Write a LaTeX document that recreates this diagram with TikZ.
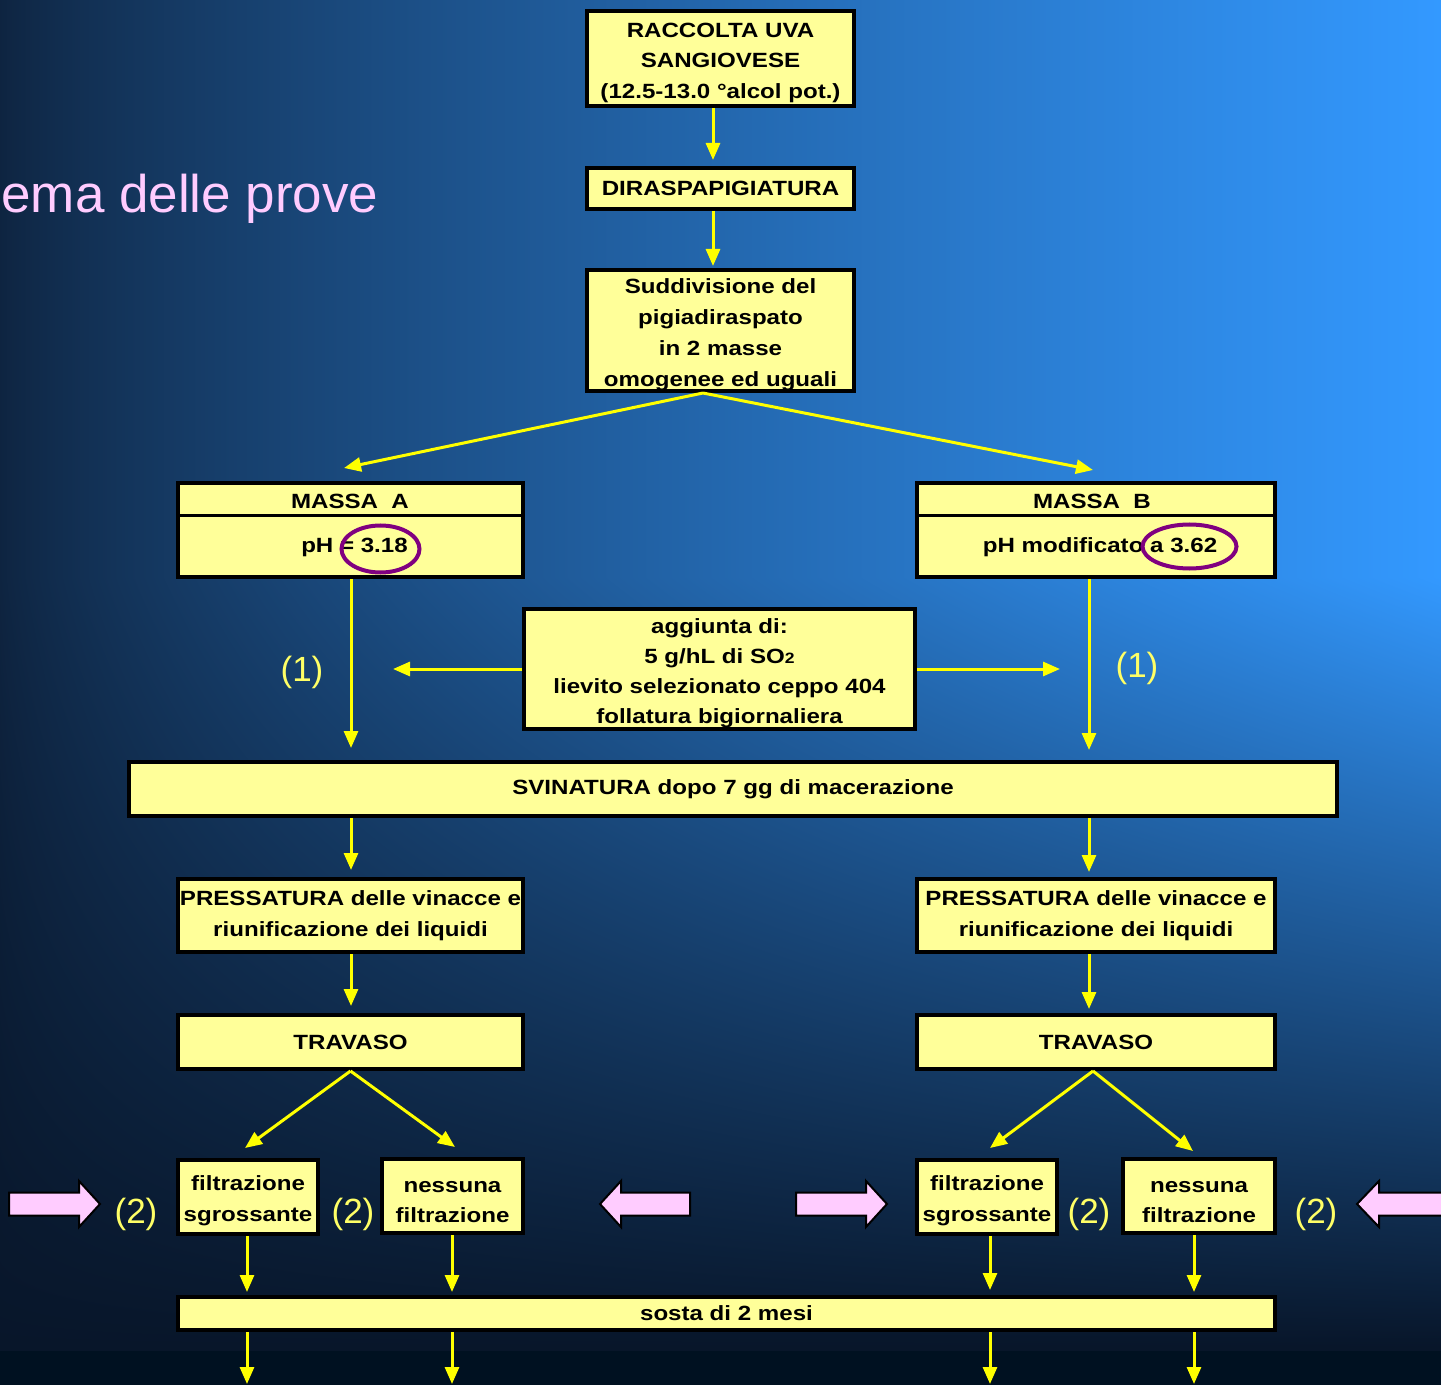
\documentclass[tikz,border=0pt]{standalone}
\usepackage{fontspec}
\setmainfont{Liberation Sans}
\newfontfamily\boxfont{Liberation Sans}[FakeStretch=1.17]
\usetikzlibrary{arrows.meta,calc}

\newcommand{\lift}{\rule{0pt}{11.5pt}}

\definecolor{boxyellow}{RGB}{255,255,153}
\definecolor{flowyellow}{RGB}{255,255,0}
\definecolor{labelyellow}{RGB}{255,255,102}
\definecolor{titlepink}{RGB}{255,204,255}
\definecolor{ringpurple}{RGB}{128,0,128}
\definecolor{bgband}{RGB}{0,17,33}

% sky: dark on the left, bright on the right, dark at the bottom
\pgfdeclarefunctionalshading{bgsky}{\pgfpoint{0bp}{0bp}}{\pgfpoint{100bp}{100bp}}{}{
  25 sub 50 div
  dup 0 lt {pop 0} if dup 1 gt {pop 1} if
  1.8 mul 0.05 sub
  dup 0 lt {pop 0} if dup 1 gt {pop 1} if
  exch
  25 sub 50 div
  dup 0 lt {pop 0} if dup 1 gt {pop 1} if
  0.8 exp
  dup 0.145 mul 0.024 add 2 index mul 0.031 add
  1 index 0.459 mul 0.055 add 3 index mul 0.086 add
  2 index 0.749 mul 0.086 add 4 index mul 0.165 add
  5 -2 roll pop pop
}

\tikzset{
  boxtext/.style={inner sep=0pt, align=center,
    font=\boxfont\bfseries\fontsize{10.3}{15.4}\selectfont},
  box/.style={boxtext, draw=black, line width=2pt, fill=boxyellow},
  flow/.style={color=flowyellow, line width=1.5pt,
    -{Triangle[width=7pt,length=8.5pt]}},
  num/.style={text=labelyellow, inner sep=0pt,
    font=\fontsize{17.5}{20}\selectfont},
  ring/.style={draw=ringpurple, line width=2pt},
  fatarrow/.style={fill=titlepink, draw=black, line width=1pt},
}

\begin{document}
\begin{tikzpicture}[x=0.5pt,y=-0.5pt]
  \shade[shading=bgsky] (0,0) rectangle (1441,1385);
  \fill[bgband] (0,1351) rectangle (1441,1385);
  \useasboundingbox (0,0) rectangle (1441,1385);

  \node[anchor=base west, text=titlepink, inner sep=0pt,
    font=\fontsize{26.5}{30}\selectfont] (title) at (1,213) {ema delle prove};

  % boxes
  \node[box, minimum width=133.5pt, minimum height=47.5pt] (racc) at (720.5,58.5)
    {\lift RACCOLTA UVA\\SANGIOVESE\\(12.5-13.0 °alcol pot.)};
  \node[box, minimum width=133.5pt, minimum height=20.5pt] (dira) at (720.5,188.5)
    {DIRASPAPIGIATURA};
  \node[box, minimum width=133.5pt, minimum height=60.5pt] (sudd) at (720.5,330.5)
    {\lift Suddivisione del\\pigiadiraspato\\in 2 masse\\omogenee ed uguali};
  \node[box, minimum width=172.5pt, minimum height=47pt] (ma) at (350.5,530) {};
  \node[box, minimum width=179pt, minimum height=47pt] (mb) at (1096,530) {};
  \node[box, minimum width=195.5pt, minimum height=60pt,
    font=\boxfont\bfseries\fontsize{10.3}{14.9}\selectfont] (agg) at (719.5,669)
    {\lift aggiunta di:\\5 g/hL di SO{\fontsize{7.5}{9}\selectfont 2}\\lievito selezionato ceppo 404\\follatura bigiornaliera};
  \node[box, minimum width=604pt, minimum height=27pt] (svin) at (733,789)
    {SVINATURA dopo 7 gg di macerazione};
  \node[box, minimum width=172.5pt, minimum height=36.5pt] (pa) at (350.5,915.5)
    {PRESSATURA delle vinacce e\\riunificazione dei liquidi};
  \node[box, minimum width=179pt, minimum height=36.5pt] (pb) at (1096,915.5)
    {PRESSATURA delle vinacce e\\riunificazione dei liquidi};
  \node[box, minimum width=172.5pt, minimum height=27pt] (ta) at (350.5,1042) {TRAVASO};
  \node[box, minimum width=179pt, minimum height=27pt] (tb) at (1096,1042) {TRAVASO};
  \node[box, minimum width=70pt, minimum height=37pt] (fa) at (248,1197)
    {\lift filtrazione\\sgrossante};
  \node[box, minimum width=70.5pt, minimum height=37pt] (na) at (452.5,1196)
    {\lift nessuna\\filtrazione};
  \node[box, minimum width=70pt, minimum height=37pt] (fb) at (987,1197)
    {\lift filtrazione\\sgrossante};
  \node[box, minimum width=76pt, minimum height=37pt] (nb) at (1199,1196)
    {\lift nessuna\\filtrazione};
  \node[box, minimum width=548.5pt, minimum height=16.5pt] (sosta) at (726.5,1313.5)
    {sosta di 2 mesi};

  % inside the two masses
  \draw[line width=1.5pt] (ma.west |- 0,516) -- (ma.east |- 0,516);
  \draw[line width=1.5pt] (mb.west |- 0,516) -- (mb.east |- 0,516);
  \node[boxtext] (maname) at (350,501) {MASSA\ \ A};
  \node[boxtext] (maph) at (354.5,547) {pH = 3.18};
  \node[boxtext] (mbname) at (1092,501) {MASSA\ \ B};
  \node[boxtext] (mbph) at (1100,547) {pH modificato a 3.62};
  \draw[ring] (380.5,549) ellipse [x radius=19.5pt, y radius=11.75pt];
  \draw[ring] (1189.5,546.5) ellipse [x radius=23.5pt, y radius=11pt];

  % labels
  \node[num] (n1a) at (302,672) {(1)};
  \node[num] (n1b) at (1137,668) {(1)};
  \node[num] (n2a) at (136,1214) {(2)};
  \node[num] (n2b) at (353,1214) {(2)};
  \node[num] (n2c) at (1089,1214) {(2)};
  \node[num] (n2d) at (1316,1214) {(2)};

  % pink arrows
  \draw[fatarrow] (9,1192.5) -- (79,1192.5) -- (79,1181) -- (100,1204)
    -- (79,1227) -- (79,1215.5) -- (9,1215.5) -- cycle;
  \draw[fatarrow] (690,1192.5) -- (621,1192.5) -- (621,1181) -- (600,1204)
    -- (621,1227) -- (621,1215.5) -- (690,1215.5) -- cycle;
  \draw[fatarrow] (796,1192.5) -- (866,1192.5) -- (866,1181) -- (887,1204)
    -- (866,1227) -- (866,1215.5) -- (796,1215.5) -- cycle;
  \draw[fatarrow] (1460,1192.5) -- (1379,1192.5) -- (1379,1181) -- (1357,1204)
    -- (1379,1227) -- (1379,1215.5) -- (1460,1215.5) -- cycle;

  \coordinate (addA) at (393,669);
  \coordinate (addB) at (1060,669);
  \coordinate (outa) at (247,1384);
  \coordinate (outb) at (452,1384);
  \coordinate (outc) at (990,1384);
  \coordinate (outd) at (1194,1384);

  % connectors
  \begin{scope}[flow]
    \draw[shorten >=3pt] (racc.south -| 713,0) -- (dira.north -| 713,0);
    \draw[shorten >=1pt] (dira.south -| 713,0) -- (sudd.north -| 713,0);
    \draw (sudd.south -| 703,0) -- ($(ma.north)+(-6.5,-13)$);
    \draw (sudd.south -| 703,0) -- ($(mb.north)+(-3,-11)$);
    \draw[shorten >=6pt] (ma.south -| 351,0) -- (svin.north -| 351,0);
    \draw[shorten >=5pt] (mb.south -| 1089,0) -- (svin.north -| 1089,0);
    \draw (agg.west) -- (addA);
    \draw (agg.east) -- (addB);
    \draw[shorten >=3.5pt] (svin.south -| 351,0) -- (pa.north -| 351,0);
    \draw[shorten >=2.5pt] (svin.south -| 1089,0) -- (pb.north -| 1089,0);
    \draw[shorten >=3.5pt] (pa.south -| 351,0) -- (ta.north -| 351,0);
    \draw[shorten >=2pt] (pb.south -| 1089,0) -- (tb.north -| 1089,0);
    \draw (ta.south) -- ($(fa.north)+(-3,-10)$);
    \draw (ta.south) -- ($(na.north)+(2.5,-10)$);
    \draw (tb.south -| 1093,0) -- ($(fb.north)+(3,-10)$);
    \draw (tb.south -| 1093,0) -- ($(nb.north)+(-6,-6)$);
    \draw[shorten >=1.5pt] (fa.south -| 247,0) -- (sosta.north -| 247,0);
    \draw[shorten >=1.5pt] (na.south -| 452,0) -- (sosta.north -| 452,0);
    \draw[shorten >=2.5pt] (fb.south -| 990,0) -- (sosta.north -| 990,0);
    \draw[shorten >=1.5pt] (nb.south -| 1194,0) -- (sosta.north -| 1194,0);
    \draw (sosta.south -| 247,0) -- (outa);
    \draw (sosta.south -| 452,0) -- (outb);
    \draw (sosta.south -| 990,0) -- (outc);
    \draw (sosta.south -| 1194,0) -- (outd);
  \end{scope}
\end{tikzpicture}
\end{document}
